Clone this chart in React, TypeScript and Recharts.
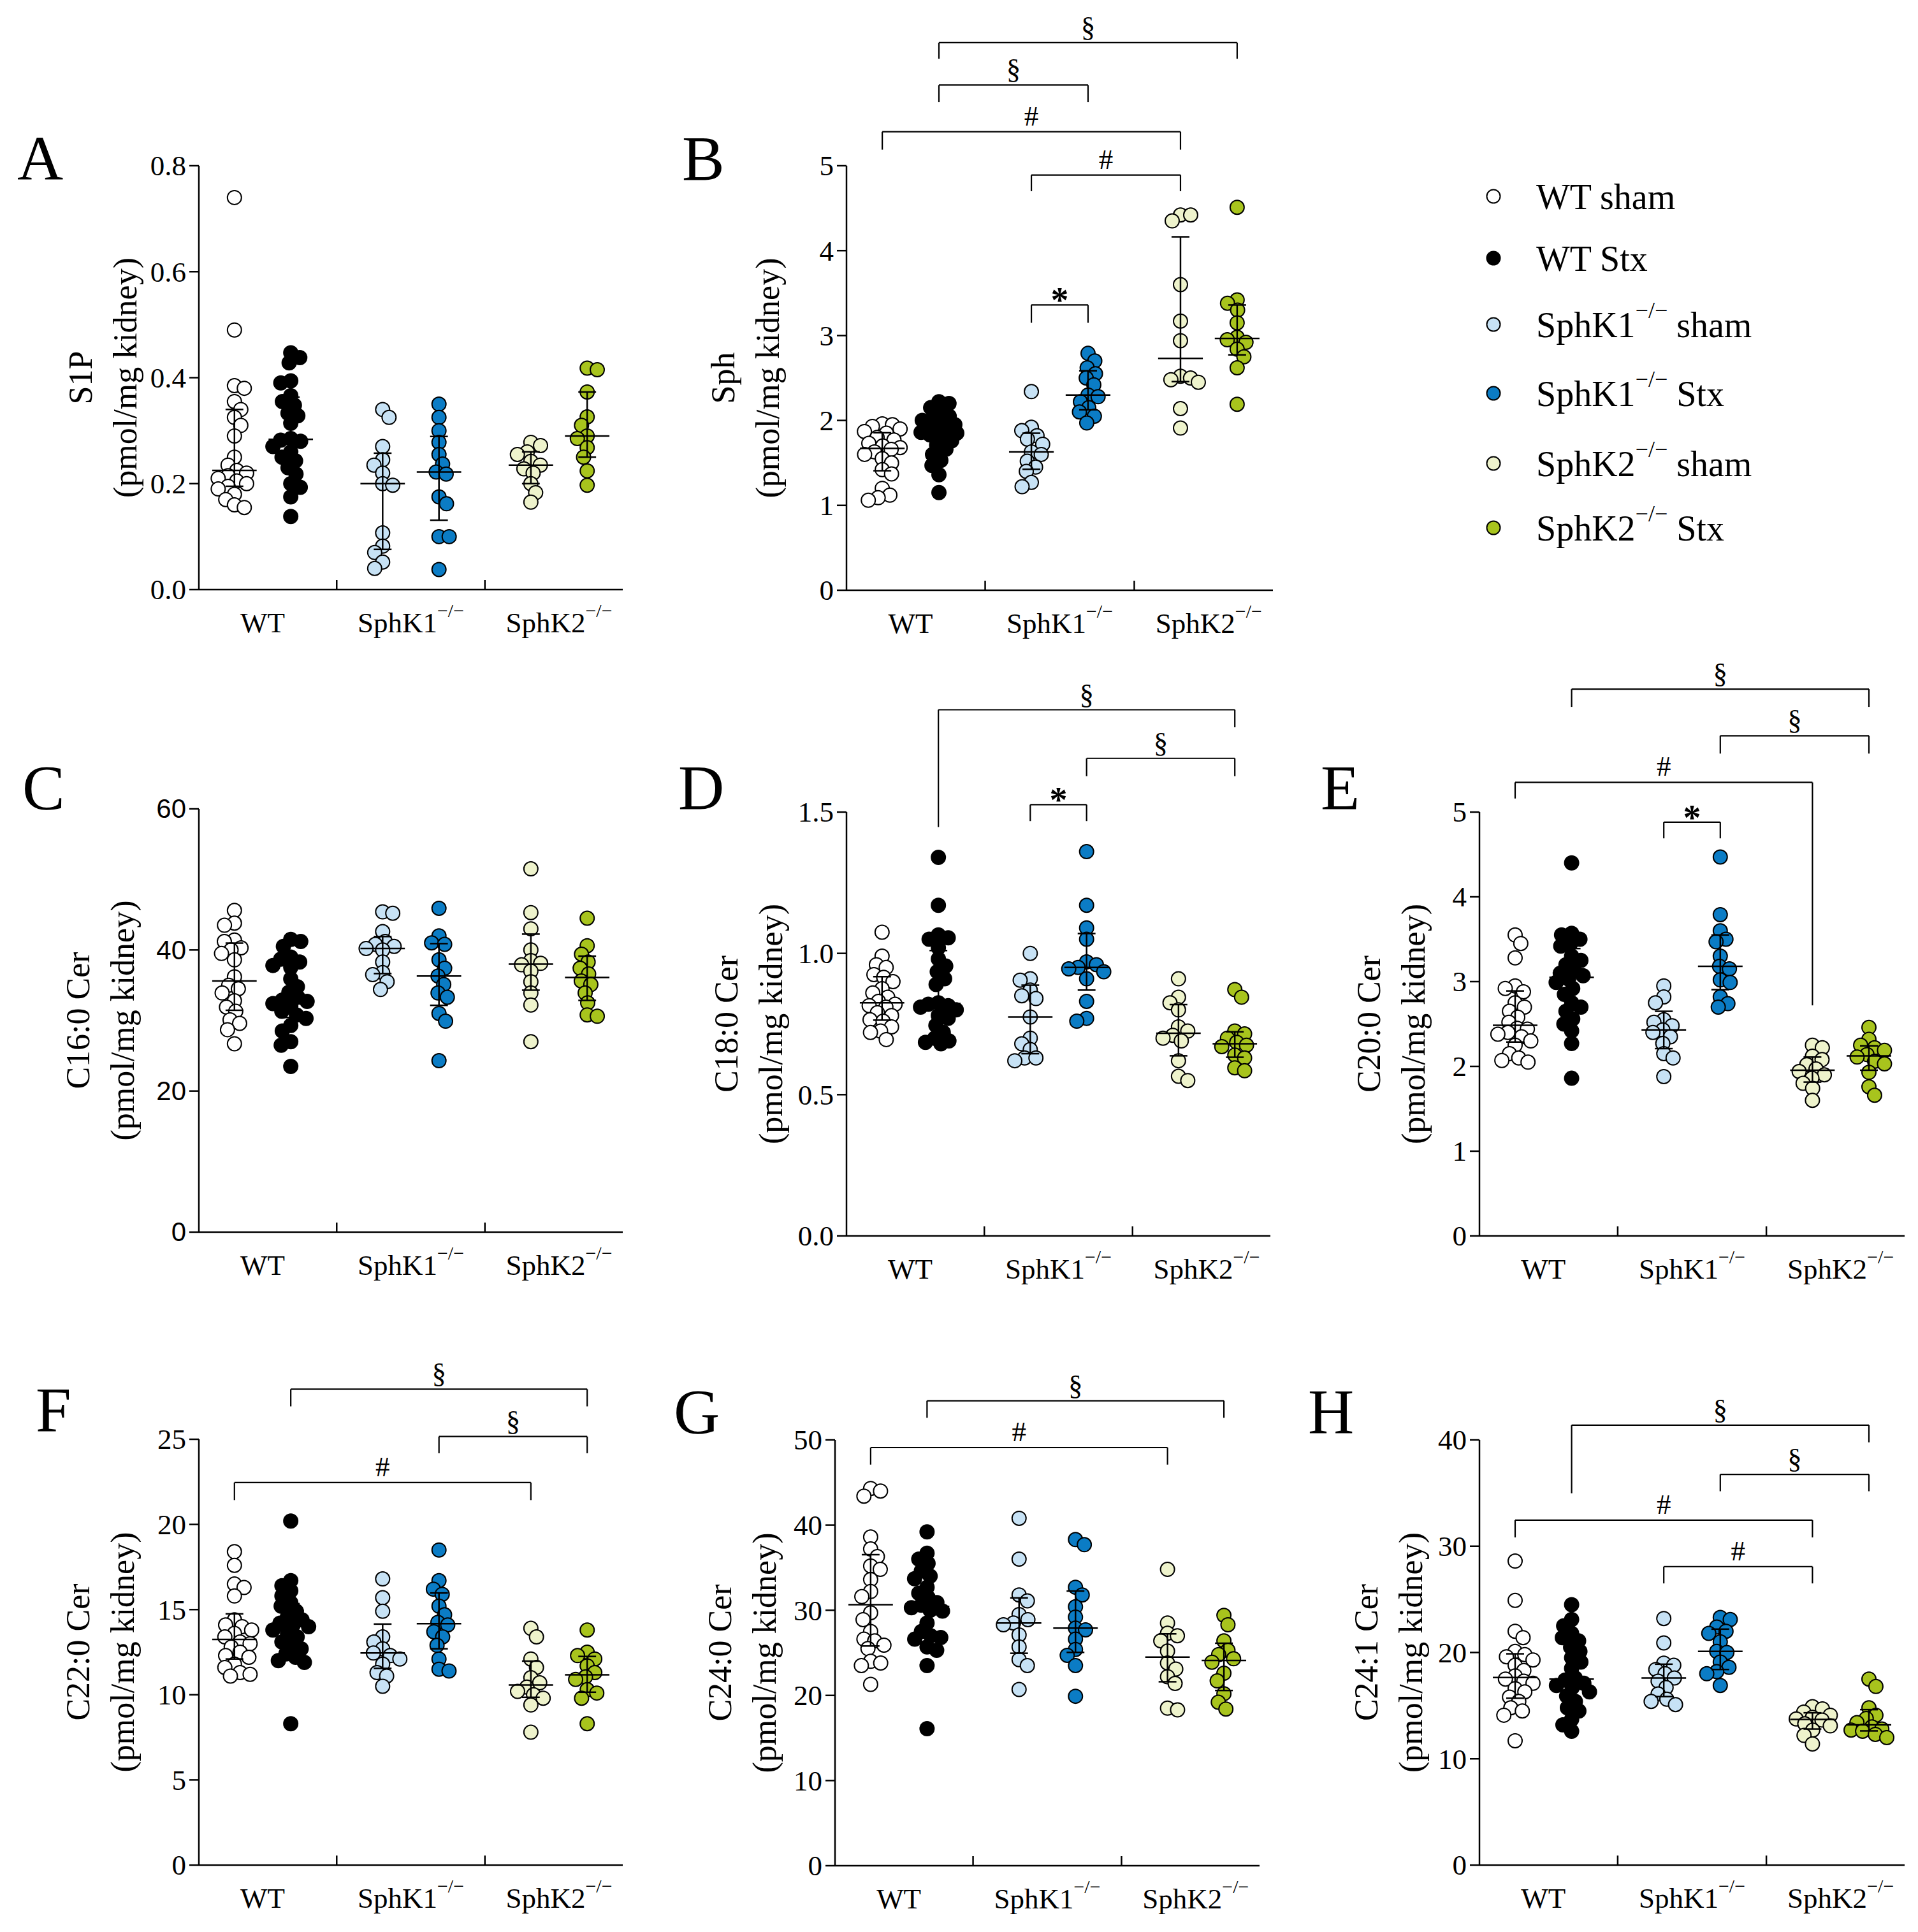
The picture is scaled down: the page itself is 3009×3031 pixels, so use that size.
import React from 'react';
import { ScatterChart, Scatter, XAxis, YAxis, ReferenceLine, ReferenceDot } from 'recharts';

const SERIF = '"Liberation Serif", "Times New Roman", serif';
const SANS = '"Liberation Sans", Arial, sans-serif';
const SUP = '\u2212/\u2212';

// ---------- categories / groups ----------
const CATEGORIES = ['WT', `SphK1${SUP}`, `SphK2${SUP}`];
const GROUP_NAMES = ['WT sham', 'WT Stx', `SphK1${SUP} sham`, `SphK1${SUP} Stx`, `SphK2${SUP} sham`, `SphK2${SUP} Stx`];
const GROUP_FILLS = ['#ffffff', '#000000', '#c7e2f5', '#0b7cc5', '#eef3cc', '#a8c41d'];

// ---------- values ----------
const S1P_TICKS = [0, 0.2, 0.4, 0.6, 0.8];
const S1P_VALUES = [
  [0.74, 0.49, 0.385, 0.38, 0.355, 0.34, 0.325, 0.31, 0.29, 0.25, 0.235, 0.225, 0.22, 0.215, 0.21, 0.205, 0.2, 0.195, 0.19, 0.18, 0.17, 0.16, 0.155],
  [0.447, 0.438, 0.428, 0.394, 0.39, 0.366, 0.355, 0.348, 0.333, 0.328, 0.314, 0.285, 0.282, 0.28, 0.27, 0.26, 0.25, 0.243, 0.23, 0.218, 0.2, 0.193, 0.175, 0.138],
  [0.34, 0.325, 0.27, 0.245, 0.235, 0.22, 0.2, 0.197, 0.107, 0.082, 0.07, 0.052, 0.04],
  [0.35, 0.325, 0.3, 0.278, 0.255, 0.237, 0.222, 0.218, 0.175, 0.162, 0.1, 0.1, 0.038],
  [0.278, 0.272, 0.26, 0.255, 0.242, 0.235, 0.228, 0.22, 0.2, 0.183, 0.165],
  [0.418, 0.415, 0.373, 0.326, 0.31, 0.29, 0.285, 0.268, 0.25, 0.224, 0.197],
];
const S1P_BRACKETS: any[] = [];

const SPH_TICKS = [0, 1, 2, 3, 4, 5];
const SPH_VALUES = [
  [1.96, 1.95, 1.93, 1.9, 1.87, 1.85, 1.8, 1.77, 1.73, 1.7, 1.68, 1.66, 1.63, 1.6, 1.55, 1.5, 1.42, 1.37, 1.2, 1.12, 1.09, 1.06],
  [2.22, 2.2, 2.15, 2.1, 2.05, 2.02, 2.0, 1.97, 1.95, 1.92, 1.9, 1.88, 1.86, 1.85, 1.83, 1.8, 1.76, 1.71, 1.66, 1.6, 1.53, 1.47, 1.36, 1.15],
  [2.34, 1.92, 1.88, 1.82, 1.78, 1.72, 1.63, 1.6, 1.52, 1.45, 1.4, 1.27, 1.22],
  [2.79, 2.7, 2.62, 2.55, 2.5, 2.42, 2.3, 2.28, 2.22, 2.15, 2.1, 2.05, 1.97],
  [4.42, 4.42, 4.35, 3.6, 3.17, 2.94, 2.52, 2.5, 2.48, 2.45, 2.14, 1.91],
  [4.51, 3.42, 3.38, 3.3, 3.15, 2.98, 2.95, 2.92, 2.84, 2.75, 2.62, 2.19],
];
const SPH_BRACKETS = [
  { from: 1, to: 5, y: 6.45, l: 6.26, r: 6.26, label: '§' },
  { from: 1, to: 3, y: 5.95, l: 5.75, r: 5.75, label: '§' },
  { from: 0, to: 4, y: 5.4, l: 5.19, r: 5.19, label: '#' },
  { from: 2, to: 4, y: 4.89, l: 4.7, r: 4.7, label: '#' },
  { from: 2, to: 3, y: 3.36, l: 3.15, r: 3.15, label: '*' },
];

const C160_TICKS = [0, 20, 40, 60];
const C160_VALUES = [
  [45.6, 43.8, 43.5, 41.4, 41.2, 40.3, 40, 39.5, 38.6, 36.2, 35, 34.5, 33.9, 32.8, 31.9, 31.3, 30.1, 29.6, 28.7, 26.7],
  [41.5, 41.2, 40.5, 39, 38.7, 38.3, 37.8, 37.5, 35.9, 34.8, 34, 33.3, 32.9, 32.7, 32.4, 32, 31.3, 30.8, 30.3, 29.3, 28.5, 27, 26.5, 23.5],
  [45.4, 45.2, 42.6, 41.2, 40.8, 40.5, 40.2, 40, 38.3, 36.8, 36.5, 35.5, 34.4],
  [45.9, 42, 41, 40.8, 38.6, 37.4, 36.3, 35.1, 33.9, 33.3, 31, 29.9, 24.3],
  [51.5, 45.3, 43, 40, 38.5, 38.1, 37.9, 37, 35.5, 33.9, 32.2, 27],
  [44.5, 40.6, 39.4, 38.3, 37.4, 36.6, 35.6, 35.1, 33.9, 32.5, 30.8, 30.6],
];
const C160_BRACKETS: any[] = [];

const C180_TICKS = [0, 0.5, 1.0, 1.5];
const C180_VALUES = [
  [1.075, 0.99, 0.96, 0.95, 0.925, 0.915, 0.9, 0.875, 0.86, 0.845, 0.83, 0.82, 0.815, 0.81, 0.79, 0.78, 0.765, 0.76, 0.74, 0.725, 0.72, 0.695],
  [1.34, 1.17, 1.065, 1.055, 1.05, 1.02, 0.98, 0.955, 0.935, 0.91, 0.89, 0.825, 0.82, 0.815, 0.81, 0.8, 0.78, 0.77, 0.745, 0.72, 0.7, 0.69, 0.685, 0.68],
  [1.0, 0.91, 0.905, 0.87, 0.85, 0.84, 0.775, 0.7, 0.68, 0.66, 0.63, 0.63, 0.62],
  [1.36, 1.17, 1.09, 1.05, 0.97, 0.96, 0.95, 0.945, 0.935, 0.91, 0.83, 0.77, 0.76],
  [0.91, 0.845, 0.825, 0.8, 0.74, 0.725, 0.71, 0.7, 0.69, 0.62, 0.565, 0.55],
  [0.872, 0.845, 0.725, 0.715, 0.7, 0.685, 0.675, 0.67, 0.64, 0.63, 0.595, 0.585],
];
const C180_BRACKETS = [
  { from: 1, to: 5, y: 1.862, l: 1.447, r: 1.8, label: '§' },
  { from: 3, to: 5, y: 1.69, l: 1.627, r: 1.627, label: '§' },
  { from: 2, to: 3, y: 1.526, l: 1.468, r: 1.468, label: '*' },
];

const C200_TICKS = [0, 1, 2, 3, 4, 5];
const C200_VALUES = [
  [3.55, 3.45, 3.28, 2.95, 2.92, 2.88, 2.75, 2.7, 2.65, 2.58, 2.52, 2.45, 2.44, 2.4, 2.38, 2.35, 2.3, 2.25, 2.15, 2.1, 2.07, 2.05],
  [4.4, 3.57, 3.55, 3.5, 3.45, 3.42, 3.3, 3.25, 3.2, 3.13, 3.1, 3.07, 3.03, 2.99, 2.92, 2.85, 2.75, 2.7, 2.65, 2.56, 2.5, 2.42, 2.27, 1.86],
  [2.95, 2.82, 2.75, 2.55, 2.52, 2.48, 2.43, 2.4, 2.35, 2.27, 2.15, 2.1, 1.88],
  [4.47, 3.79, 3.6, 3.5, 3.47, 3.3, 3.18, 3.15, 3.02, 2.99, 2.82, 2.74, 2.7],
  [2.25, 2.22, 2.12, 2.08, 2.02, 1.97, 1.94, 1.9, 1.86, 1.8, 1.74, 1.6],
  [2.46, 2.32, 2.25, 2.22, 2.19, 2.14, 2.11, 2.06, 2.03, 1.93, 1.76, 1.66],
];
const C200_BRACKETS = [
  { from: 1, to: 5, y: 6.45, l: 6.24, r: 6.24, label: '§' },
  { from: 3, to: 5, y: 5.9, l: 5.69, r: 5.69, label: '§' },
  { from: 0, to: 4, y: 5.35, l: 5.16, r: 2.72, label: '#' },
  { from: 2, to: 3, y: 4.88, l: 4.69, r: 4.69, label: '*' },
];

const C220_TICKS = [0, 5, 10, 15, 20, 25];
const C220_VALUES = [
  [18.4, 17.6, 16.5, 16.3, 15.8, 14.4, 14.1, 14.0, 13.8, 13.6, 13.4, 13.1, 13.0, 12.8, 12.5, 12.3, 12.2, 11.8, 11.6, 11.3, 11.2, 11.1],
  [20.2, 16.7, 16.4, 16.1, 15.8, 15.4, 15.2, 14.9, 14.6, 14.4, 14.2, 14.1, 14.0, 13.8, 13.6, 13.4, 13.1, 12.9, 12.7, 12.4, 12.2, 12.0, 11.9, 8.3],
  [16.8, 15.7, 14.9, 13.4, 13.1, 12.7, 12.45, 12.3, 12.1, 11.8, 11.3, 11.1, 10.5],
  [18.5, 16.7, 16.2, 15.9, 15.2, 14.7, 14.25, 14.1, 13.7, 13.4, 12.9, 12.1, 11.5, 11.4],
  [13.9, 13.4, 12.1, 11.6, 11.0, 10.7, 10.45, 10.2, 10.0, 9.8, 9.4, 7.8],
  [13.8, 12.5, 12.3, 12.1, 11.7, 11.3, 11.05, 10.9, 10.3, 10.1, 9.8, 8.3],
];
const C220_BRACKETS = [
  { from: 1, to: 5, y: 27.94, l: 26.93, r: 26.93, label: '§' },
  { from: 3, to: 5, y: 25.16, l: 24.18, r: 24.18, label: '§' },
  { from: 0, to: 4, y: 22.46, l: 21.43, r: 21.43, label: '#' },
];

const C240_TICKS = [0, 10, 20, 30, 40, 50];
const C240_VALUES = [
  [44.3, 44.0, 43.4, 38.6, 37.2, 36.3, 35.2, 34.8, 33.6, 32.2, 31.6, 29.7, 28.9, 27.5, 26.6, 26.4, 25.9, 25.5, 24.0, 23.8, 23.5, 21.3],
  [39.2, 36.7, 36.0, 35.5, 34.6, 34.0, 33.7, 32.7, 32.0, 31.5, 30.9, 30.6, 30.3, 30.0, 29.9, 28.5, 27.5, 27.0, 26.8, 26.6, 25.7, 25.3, 23.5, 16.1],
  [40.8, 36.0, 31.8, 31.1, 29.5, 28.9, 28.5, 28.3, 27.1, 25.7, 24.2, 23.5, 20.7],
  [38.3, 37.7, 32.7, 31.8, 30.4, 29.2, 27.9, 27.7, 26.6, 25.4, 24.7, 23.5, 19.9],
  [34.8, 28.5, 27.3, 27.0, 26.4, 25.2, 23.8, 23.1, 22.2, 21.4, 18.5, 18.3],
  [29.4, 28.3, 26.4, 25.3, 24.8, 24.3, 23.9, 22.6, 21.7, 20.2, 19.2, 18.4],
];
const C240_BRACKETS = [
  { from: 1, to: 5, y: 54.6, l: 52.6, r: 52.6, label: '§' },
  { from: 0, to: 4, y: 49.1, l: 47.1, r: 47.1, label: '#' },
];

const C241_TICKS = [0, 10, 20, 30, 40];
const C241_VALUES = [
  [28.6, 24.9, 22.0, 21.4, 20.1, 19.8, 19.6, 19.3, 18.8, 18.3, 17.8, 17.5, 17.3, 17.1, 16.6, 16.3, 15.8, 15.4, 14.8, 14.5, 14.1, 11.7],
  [24.5, 23.1, 22.5, 21.8, 21.4, 21.1, 20.5, 20.1, 19.5, 19.1, 18.5, 17.6, 17.4, 17.1, 16.9, 16.7, 16.3, 15.9, 15.4, 14.8, 14.5, 13.7, 13.2, 12.6],
  [23.2, 20.9, 19.0, 18.8, 18.4, 18.0, 17.6, 17.3, 16.7, 16.1, 15.6, 15.4, 15.1],
  [23.3, 23.1, 22.4, 22.0, 21.8, 21.0, 20.1, 20.0, 19.1, 18.6, 18.2, 18.0, 16.9],
  [14.9, 14.7, 14.4, 14.1, 13.9, 13.75, 13.65, 13.3, 13.1, 12.7, 12.2, 11.4],
  [17.5, 16.8, 14.8, 14.1, 13.8, 13.4, 13.0, 12.8, 12.7, 12.6, 12.3, 12.0],
];
const C241_BRACKETS = [
  { from: 1, to: 5, y: 41.39, l: 34.98, r: 39.77, label: '§' },
  { from: 3, to: 5, y: 36.75, l: 35.17, r: 35.17, label: '§' },
  { from: 0, to: 4, y: 32.45, l: 30.83, r: 30.83, label: '#' },
  { from: 2, to: 4, y: 28.08, l: 26.5, r: 26.5, label: '#' },
];

// ---------- layout ----------
const X_DOMAIN = [-0.43, 2.43];
const PAIR_HALF = 0.19;
const groupX = (g: number) => Math.floor(g / 2) + (g % 2 === 0 ? -PAIR_HALF : PAIR_HALF);

const PANELS = [
  { letter: 'A', title: 'S1P', values: S1P_VALUES, ticks: S1P_TICKS, dec: 1, brackets: S1P_BRACKETS, box: { l: 312, r: 977, t: 260, b: 925 }, titleOff: 116, lx: 27, ly: 282, tickFont: SERIF, tickFs: 45 },
  { letter: 'B', title: 'Sph', values: SPH_VALUES, ticks: SPH_TICKS, dec: 0, brackets: SPH_BRACKETS, box: { l: 1328, r: 1997, t: 260, b: 926 }, titleOff: 124, lx: 1070, ly: 282, tickFont: SERIF, tickFs: 45 },
  { letter: 'C', title: 'C16:0 Cer', values: C160_VALUES, ticks: C160_TICKS, dec: 0, brackets: C160_BRACKETS, box: { l: 312, r: 977, t: 1269, b: 1933 }, titleOff: 120, lx: 35, ly: 1269, tickFont: SANS, tickFs: 42 },
  { letter: 'D', title: 'C18:0 Cer', values: C180_VALUES, ticks: C180_TICKS, dec: 1, brackets: C180_BRACKETS, box: { l: 1328, r: 1993, t: 1274, b: 1939 }, titleOff: 119, lx: 1064, ly: 1269, tickFont: SERIF, tickFs: 45 },
  { letter: 'E', title: 'C20:0 Cer', values: C200_VALUES, ticks: C200_TICKS, dec: 0, brackets: C200_BRACKETS, box: { l: 2321, r: 2988, t: 1274, b: 1939 }, titleOff: 104, lx: 2072, ly: 1269, tickFont: SERIF, tickFs: 45 },
  { letter: 'F', title: 'C22:0 Cer', values: C220_VALUES, ticks: C220_TICKS, dec: 0, brackets: C220_BRACKETS, box: { l: 312, r: 977, t: 2258, b: 2926 }, titleOff: 120, lx: 56, ly: 2245, tickFont: SERIF, tickFs: 45 },
  { letter: 'G', title: 'C24:0 Cer', values: C240_VALUES, ticks: C240_TICKS, dec: 0, brackets: C240_BRACKETS, box: { l: 1310, r: 1976, t: 2259, b: 2927 }, titleOff: 111, lx: 1057, ly: 2248, tickFont: SERIF, tickFs: 45 },
  { letter: 'H', title: 'C24:1 Cer', values: C241_VALUES, ticks: C241_TICKS, dec: 0, brackets: C241_BRACKETS, box: { l: 2321, r: 2988, t: 2259, b: 2926 }, titleOff: 108, lx: 2052, ly: 2248, tickFont: SERIF, tickFs: 45 },
];

const LEGEND_ROWS_Y = [308, 405, 509, 617, 727, 828];

// ---------- helpers ----------
function quant(sorted: number[], p: number) {
  const n = sorted.length;
  const pos = p * (n + 1);
  if (pos <= 1) return sorted[0];
  if (pos >= n) return sorted[n - 1];
  const lo = Math.floor(pos);
  return sorted[lo - 1] + (pos - lo) * (sorted[lo] - sorted[lo - 1]);
}

function swarm(vals: number[], pxPerY: number, d = 16, maxHalf = 28): number[] {
  const order = vals.map((_, i) => i).sort((a, b) => vals[b] - vals[a]);
  const placed: { x: number; y: number }[] = [];
  const out = new Array(vals.length).fill(0);
  let flip = 1;
  for (const i of order) {
    const y = vals[i] * pxPerY;
    const near = placed.filter((p) => Math.abs(p.y - y) < d);
    const cands = [0];
    for (const p of near) {
      const dx = Math.sqrt(d * d - (p.y - y) * (p.y - y));
      cands.push(p.x + dx, p.x - dx);
    }
    const ok = (c: number) => near.every((p) => (p.x - c) ** 2 + (p.y - y) ** 2 >= d * d - 1e-6);
    cands.sort((a, b) => Math.abs(a) - Math.abs(b) || flip * (a - b));
    let best: number | null = null;
    for (const c of cands) {
      if (Math.abs(c) <= maxHalf + 1e-6 && ok(c)) { best = c; break; }
    }
    if (best === null) {
      let score = -1;
      for (let c = -maxHalf; c <= maxHalf; c += 1) {
        const m = Math.min(...near.map((p) => Math.hypot(p.x - c, p.y - y)));
        if (m > score) { score = m; best = c; }
      }
    }
    flip = -flip;
    out[i] = best as number;
    placed.push({ x: best as number, y });
  }
  return out;
}

function supNodes(text: string, supSize: number, supDy: number) {
  const idx = text.indexOf(SUP);
  if (idx < 0) return [text];
  const before = text.slice(0, idx);
  const after = text.slice(idx + SUP.length);
  const nodes: any[] = [<tspan key="a">{before}</tspan>, <tspan key="b" dy={supDy} fontSize={supSize}>{SUP}</tspan>];
  if (after) nodes.push(<tspan key="c" dy={-supDy}>{after}</tspan>);
  return nodes;
}

const AXIS = { stroke: '#000', strokeWidth: 2.5 };

function XTick(props: any) {
  const { x, y, payload } = props;
  const v = payload ? payload.value : 0;
  if (Math.abs(v - Math.round(v)) > 0.01) {
    return <line x1={x} x2={x} y1={y} y2={y - 15} stroke="#000" strokeWidth={2.5} />;
  }
  const label = CATEGORIES[Math.round(v)];
  return (
    <text x={x} y={y + 67} textAnchor="middle" fontFamily={SERIF} fontSize={45} fill="#000" style={{ whiteSpace: 'pre', fontFamily: SERIF }}>
      {supNodes(label, 30, -24)}
    </text>
  );
}

function YTick(props: any) {
  const { x, y, payload, dec, font, fs } = props;
  const v = payload ? payload.value : 0;
  return (
    <text x={x} y={y} dy={fs * 0.34} textAnchor="end" fontFamily={font} fontSize={fs} fill="#000" style={{ fontFamily: font }}>
      {Number(v).toFixed(dec)}
    </text>
  );
}

function YTitle(props: any) {
  const { viewBox, line1, off } = props;
  if (!viewBox) return null;
  const axisX = viewBox.x + viewBox.width;
  const cy = viewBox.y + viewBox.height / 2;
  const common = { textAnchor: 'middle' as const, dominantBaseline: 'central' as const, fontFamily: SERIF, fontSize: 52, fill: '#000', style: { fontFamily: SERIF } };
  return (
    <g>
      <text transform={`translate(${axisX - off - 70},${cy}) rotate(-90)`} {...common}>{line1}</text>
      <text transform={`translate(${axisX - off},${cy}) rotate(-90)`} {...common}>(pmol/mg kidney)</text>
    </g>
  );
}

const dotShape = (fill: string) => (p: any) => (
  <circle cx={p.cx} cy={p.cy} r={11} fill={fill} stroke="#000" strokeWidth={2} />
);

function seg(key: string, x1: number, y1: number, x2: number, y2: number, w = 2.5) {
  return (
    <ReferenceLine
      key={key}
      segment={[{ x: x1, y: y1 }, { x: x2, y: y2 }]}
      stroke="#000"
      strokeWidth={w}
      ifOverflow="visible"
      zIndex={700}
    />
  );
}

function Panel({ cfg }: { cfg: any }) {
  const { values, ticks, dec, brackets, box, title, titleOff, tickFont, tickFs } = cfg;
  const yMax = ticks[ticks.length - 1];
  const plotW = box.r - box.l;
  const plotH = box.b - box.t;
  const pxPerX = plotW / (X_DOMAIN[1] - X_DOMAIN[0]);
  const pxPerY = plotH / yMax;
  const ML = 300, MT = 260, MR = 20, MB = 95, YW = 100, XH = 85;
  const width = plotW + ML + MR;
  const height = plotH + MT + MB;

  const series = values.map((vals: number[], g: number) => {
    const offs = swarm(vals, pxPerY);
    return vals.map((v, i) => ({ x: groupX(g) + offs[i] / pxPerX, y: v }));
  });

  const statLines: any[] = [];
  values.forEach((vals: number[], g: number) => {
    const s = [...vals].sort((a, b) => a - b);
    const med = quant(s, 0.5), q1 = quant(s, 0.25), q3 = quant(s, 0.75);
    const gx = groupX(g);
    statLines.push(seg(`m${g}`, gx - 0.15, med, gx + 0.15, med));
    statLines.push(seg(`v${g}`, gx, q1, gx, q3));
    statLines.push(seg(`c1${g}`, gx - 0.06, q1, gx + 0.06, q1));
    statLines.push(seg(`c3${g}`, gx - 0.06, q3, gx + 0.06, q3));
  });

  const bracketEls: any[] = [];
  brackets.forEach((b: any, k: number) => {
    const x1 = groupX(b.from), x2 = groupX(b.to);
    bracketEls.push(seg(`bh${k}`, x1, b.y, x2, b.y, 2.2));
    bracketEls.push(seg(`bl${k}`, x1, b.y, x1, b.l, 2.2));
    bracketEls.push(seg(`br${k}`, x2, b.y, x2, b.r, 2.2));
    const star = b.label === '*';
    bracketEls.push(
      <ReferenceDot
        key={`bt${k}`}
        x={(x1 + x2) / 2}
        y={b.y}
        r={0}
        ifOverflow="visible"
        shape={(p: any) => (
          <text
            x={p.cx}
            y={star ? p.cy + 12 : p.cy - 10}
            textAnchor="middle"
            fontFamily={SERIF}
            fontSize={star ? 56 : 45}
            fontWeight={star ? 'bold' : 'normal'}
            fill="#000"
            style={{ fontFamily: SERIF }}
          >
            {b.label}
          </text>
        )}
      />
    );
  });

  return (
    <div style={{ position: 'absolute', left: box.l - ML, top: box.t - MT, width, height }}>
      <ScatterChart width={width} height={height} margin={{ top: MT, right: MR, bottom: MB - XH, left: ML - YW }}>
        <XAxis
          type="number"
          dataKey="x"
          domain={X_DOMAIN}
          ticks={[0, 0.5, 1, 1.5, 2]}
          interval={0}
          tick={<XTick />}
          tickLine={false}
          tickSize={0}
          tickMargin={0}
          height={XH}
          axisLine={AXIS}
          allowDataOverflow
        />
        <YAxis
          type="number"
          dataKey="y"
          domain={[0, yMax]}
          ticks={ticks}
          interval={0}
          tick={<YTick dec={dec} font={tickFont} fs={tickFs} />}
          tickSize={15}
          tickMargin={5}
          tickLine={AXIS}
          axisLine={AXIS}
          width={YW}
          allowDataOverflow
          label={<YTitle line1={title} off={titleOff} />}
        />
        {series.map((d: any[], g: number) => (
          <Scatter key={`s${g}`} name={GROUP_NAMES[g]} data={d} isAnimationActive={false} shape={dotShape(GROUP_FILLS[g])} />
        ))}
        {statLines}
        {bracketEls}
      </ScatterChart>
    </div>
  );
}

function Overlay() {
  return (
    <svg width={3009} height={3031} style={{ position: 'absolute', left: 0, top: 0, pointerEvents: 'none' }}>
      {PANELS.map((p) => (
        <text key={p.letter} x={p.lx} y={p.ly} fontFamily={SERIF} fontSize={100} fill="#000">{p.letter}</text>
      ))}
      {GROUP_NAMES.map((name, i) => (
        <g key={name}>
          <circle cx={2343} cy={LEGEND_ROWS_Y[i]} r={10.5} fill={GROUP_FILLS[i]} stroke="#000" strokeWidth={2} />
          <text x={2410} y={LEGEND_ROWS_Y[i] + 20} fontFamily={SERIF} fontSize={56} fill="#000" style={{ whiteSpace: 'pre' }}>
            {supNodes(name, 36, -30)}
          </text>
        </g>
      ))}
    </svg>
  );
}

export default function App() {
  return (
    <div style={{ position: 'absolute', left: 0, top: 0, width: 3009, height: 3031, background: '#fff', overflow: 'hidden', fontFamily: SERIF }}>
      {PANELS.map((p) => (
        <Panel key={p.letter} cfg={p} />
      ))}
      <Overlay />
    </div>
  );
}
